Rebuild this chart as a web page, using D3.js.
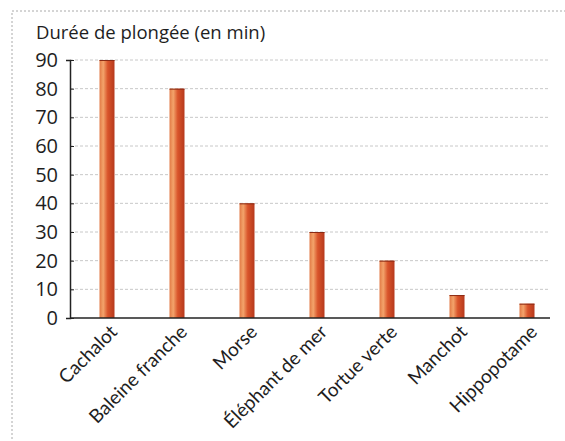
<!DOCTYPE html>
<html>
<head>
<meta charset="utf-8">
<script src="https://cdn.jsdelivr.net/npm/d3@7"></script>
<style>
  body { margin: 0; background: #fff; }
  svg { font-family: "Open Sans", "Noto Sans", sans-serif; }
</style>
</head>
<body>
<svg width="565" height="441"></svg>
<script>
// donnees
var animaux = ["Cachalot", "Baleine franche", "Morse", "Éléphant de mer", "Tortue verte", "Manchot", "Hippopotame"];
var durees = [90, 80, 40, 30, 20, 8, 5];
var graduations = [0, 10, 20, 30, 40, 50, 60, 70, 80, 90];

var svg = d3.select("svg"),
    gauche = 70, droite = 550, haut = 60, bas = 318;

var x = d3.scalePoint().domain(animaux).range([107, 527]),
    y = d3.scaleLinear().domain([0, 90]).range([bas, haut]);

// cadre en pointilles
svg.append("rect")
    .attr("x", 12).attr("y", 11)
    .attr("width", 600).attr("height", 460)
    .attr("fill", "none")
    .attr("stroke", "#aaa")
    .attr("stroke-width", 1)
    .attr("stroke-dasharray", "2,2");

// degrade des barres
var grad = svg.append("defs").append("linearGradient")
    .attr("id", "barre").attr("x1", "0%").attr("x2", "100%");
grad.append("stop").attr("offset", "0%").attr("stop-color", "#e27a45");
grad.append("stop").attr("offset", "25%").attr("stop-color", "#f3a36b");
grad.append("stop").attr("offset", "55%").attr("stop-color", "#d9542b");
grad.append("stop").attr("offset", "100%").attr("stop-color", "#b6391d");

// lignes de grille
svg.append("g")
  .selectAll("line")
  .data(graduations.slice(1))
  .enter().append("line")
    .attr("x1", gauche).attr("x2", droite)
    .attr("y1", function(d) { return y(d); })
    .attr("y2", function(d) { return y(d); })
    .attr("stroke", "#c8c8c8")
    .attr("stroke-dasharray", "3,2");

// barres
var bw = 15;
svg.append("g")
  .selectAll("rect")
  .data(durees)
  .enter().append("rect")
    .attr("x", function(d, i) { return x(animaux[i]) - bw / 2; })
    .attr("y", function(d) { return y(d); })
    .attr("width", bw)
    .attr("height", function(d) { return y(0) - y(d); })
    .attr("fill", "url(#barre)");

// petit trait sombre au sommet
svg.append("g")
  .selectAll("line")
  .data(durees)
  .enter().append("line")
    .attr("x1", function(d, i) { return x(animaux[i]) - bw / 2; })
    .attr("x2", function(d, i) { return x(animaux[i]) + bw / 2; })
    .attr("y1", function(d) { return y(d) + 0.5; })
    .attr("y2", function(d) { return y(d) + 0.5; })
    .attr("stroke", "#8a2a14")
    .attr("stroke-width", 1);

// axe y
var axeY = svg.append("g")
    .attr("transform", "translate(" + gauche + ",0)")
    .call(d3.axisLeft(y).tickValues(graduations).tickSize(4).tickPadding(8));
axeY.select(".domain").attr("stroke", "#222").attr("stroke-width", 1.5);
axeY.selectAll(".tick line").attr("x2", 4).attr("stroke", "#222");
axeY.selectAll("text")
    .attr("font-size", 20)
    .attr("fill", "#1e1e1e")
    .style("font-family", "Open Sans, sans-serif");

// axe x
svg.append("line")
    .attr("x1", gauche).attr("x2", droite)
    .attr("y1", bas).attr("y2", bas)
    .attr("stroke", "#222").attr("stroke-width", 1.5);

var axeX = svg.append("g")
    .attr("transform", "translate(0," + bas + ")")
    .call(d3.axisBottom(x).tickSize(0));
axeX.select(".domain").remove();
axeX.selectAll("text")
    .attr("font-size", 19)
    .attr("fill", "#1e1e1e")
    .style("font-family", "Lato, Open Sans, sans-serif")
    .attr("text-anchor", "end")
    .attr("x", -3)
    .attr("y", 5)
    .attr("dy", "0.7em")
    .attr("transform", "rotate(-45)");

// titre
svg.append("text")
    .attr("x", 36).attr("y", 39)
    .attr("font-size", 18.5)
    .attr("fill", "#1e1e1e")
    .text("Durée de plongée (en min)");
</script>
</body>
</html>
